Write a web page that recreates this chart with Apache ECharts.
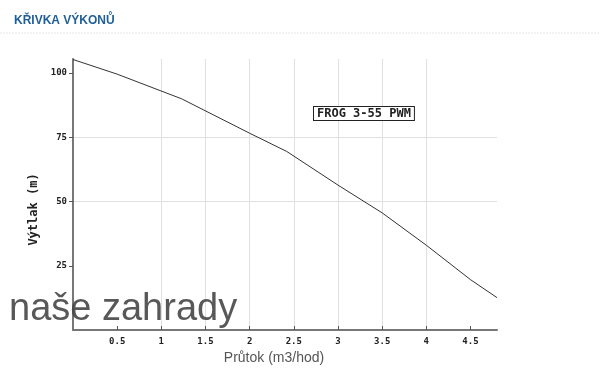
<!DOCTYPE html>
<html>
<head>
<meta charset="utf-8">
<script src="https://cdn.jsdelivr.net/npm/echarts@6/dist/echarts.min.js"></script>
<style>
html,body{margin:0;padding:0;background:#fff;}
#chart{width:600px;height:386px;}
</style>
</head>
<body>
<div id="chart"></div>
<script>
// Data
const flow = [0, 0.5, 1.23, 2, 2.42, 3, 3.5, 4, 4.5, 4.8];
const head = [105.3, 99.6, 90, 76.6, 69.5, 56.4, 45.6, 33, 19.6, 12.6];
const xTicks = [0.5, 1, 1.5, 2, 2.5, 3, 3.5, 4, 4.5];
const yTicks = [25, 50, 75, 100];
const seriesName = 'FROG 3-55 PWM';
const titleText = 'KŘIVKA VÝKONŮ';
const xName = 'Průtok (m3/hod)';
const yName = 'Výtlak (m)';
const watermark = 'naše zahrady';

const chart = echarts.init(document.getElementById('chart'), null, {renderer: 'canvas'});
const mono = '"DejaVu Sans Mono", monospace';
const option = {
  animation: false,
  backgroundColor: '#fff',
  title: {
    text: titleText,
    left: 9, top: 10,
    textStyle: {color: '#1f5f99', fontSize: 12, fontWeight: 'bold', fontFamily: 'Arial, "Liberation Sans", sans-serif'}
  },
  grid: {left: 73, right: 103, top: 59, bottom: 56},
  xAxis: {
    type: 'value', min: 0, max: 4.8, interval: 0.5,
    name: xName, nameLocation: 'middle', nameGap: 20,
    nameTextStyle: {color: '#555', fontSize: 14, fontFamily: '"Liberation Sans", Arial, sans-serif', padding: [0, 22, 0, 0]},
    axisLine: {show: true, lineStyle: {color: '#777', width: 2}},
    axisTick: {show: true, inside: true, length: 4, customValues: xTicks, lineStyle: {color: '#555'}},
    axisLabel: {customValues: xTicks, margin: 7, color: '#222', fontSize: 9, fontWeight: 'bold', fontFamily: mono},
    splitLine: {show: true, showMinLine: false, showMaxLine: false, lineStyle: {color: '#e0e0e0', width: 1}}
  },
  yAxis: {
    type: 'value', min: 0, max: 105.5, interval: 25,
    name: yName, nameLocation: 'middle', nameGap: 32, nameRotate: 90,
    nameTextStyle: {color: '#222', fontSize: 12, fontWeight: 'bold', fontFamily: mono, padding: [0, 30, 0, 0]},
    axisLine: {show: true, lineStyle: {color: '#777', width: 2}},
    axisTick: {show: true, inside: false, length: 4, customValues: yTicks, lineStyle: {color: '#555'}},
    axisLabel: {customValues: yTicks, margin: 6, color: '#222', fontSize: 9, fontWeight: 'bold', fontFamily: mono},
    splitLine: {show: true, showMinLine: false, showMaxLine: false, lineStyle: {color: '#e0e0e0', width: 1}}
  },
  series: [{
    name: seriesName,
    type: 'line',
    data: flow.map((x, i) => [x, head[i]]),
    showSymbol: false,
    lineStyle: {color: '#333', width: 1},
    silent: true
  }],
  graphic: [
    {type: 'line', shape: {x1: 0, y1: 33, x2: 600, y2: 33}, style: {stroke: '#e6e6e6', lineWidth: 1, lineDash: [2, 1]}},
    {type: 'text', left: 313, top: 106, z: 100,
      style: {text: seriesName, font: 'bold 12px ' + mono, fill: '#222',
        backgroundColor: '#fff', borderColor: '#222', borderWidth: 1, padding: [1, 3, 0, 3]}},
    {type: 'text', left: 9, top: 291, z: 100,
      style: {text: watermark, font: '38px "Liberation Sans", Arial, sans-serif', fill: 'rgba(70,70,70,0.9)'}}
  ]
};
chart.setOption(option);
</script>
</body>
</html>
